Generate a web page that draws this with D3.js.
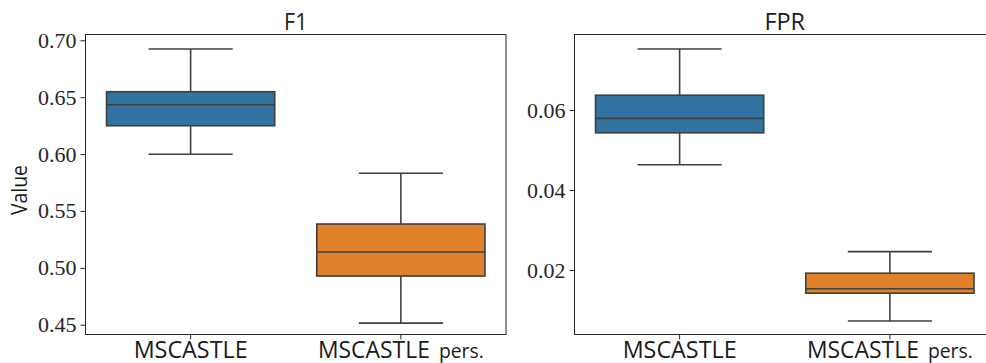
<!DOCTYPE html>
<html>
<head>
<meta charset="utf-8">
<script src="https://cdn.jsdelivr.net/npm/d3@7"></script>
<style>
  html, body { margin: 0; padding: 0; background: #fff; }
  svg { display: block; }
</style>
</head>
<body>
<svg id="chart" width="986" height="363"></svg>
<script>
// ---- data ----
const categories = ["MSCASTLE", "MSCASTLE pers."];
const categoryMain = ["MSCASTLE", "MSCASTLE"];
const categorySuffix = ["", "pers."];
const boxColors = ["#3274a1", "#e1812c"];

// F1 box stats: [whiskerLow, q1, median, q3, whiskerHigh]
const f1Stats = [
  [0.5998, 0.6249, 0.6434, 0.6548, 0.6924],
  [0.4514, 0.4928, 0.5139, 0.5385, 0.5831]
];
const f1Ticks = [0.45, 0.50, 0.55, 0.60, 0.65, 0.70];
const f1Domain = [0.4414, 0.7051];

// FPR box stats
const fprStats = [
  [0.0463, 0.0543, 0.0579, 0.0637, 0.07525],
  [0.00725, 0.0142, 0.0153, 0.0192, 0.0246]
];
const fprTicks = [0.02, 0.04, 0.06];
const fprDomain = [0.003875, 0.078875];

const panelTitles = ["F1", "FPR"];

// ---- drawing ----
const svg = d3.select("#chart");
const plotTop = 34.5, plotBottom = 334.5, panelW = 420.5;
const panels = [
  {x0: 85.5, stats: f1Stats, ticks: f1Ticks, domain: f1Domain, fmt: d3.format(".2f"), title: panelTitles[0]},
  {x0: 574.5, stats: fprStats, ticks: fprTicks, domain: fprDomain, fmt: d3.format(".2f"), title: panelTitles[1]}
];
const lineColor = "#3f3f3f";
const sans = "'Open Sans', 'DejaVu Sans', sans-serif";
const titleTL = {"F1": 23.4, "FPR": 40.7};

panels.forEach((p, pi) => {
  const x = d3.scaleBand().domain(categories).range([p.x0, p.x0 + panelW]).paddingInner(0).paddingOuter(0);
  const y = d3.scaleLinear().domain(p.domain).range([plotBottom, plotTop]);
  const g = svg.append("g");

  // y axis
  const ya = g.append("g").attr("transform", `translate(${p.x0},0)`)
    .call(d3.axisLeft(y).tickValues(p.ticks).tickSize(5).tickPadding(4).tickFormat(p.fmt));
  ya.select(".domain").remove();
  ya.selectAll(".tick line").attr("stroke", "#262626").attr("stroke-width", 1);
  ya.selectAll(".tick text").attr("font-family", "'Liberation Serif', 'Times New Roman', serif")
    .attr("font-size", 22).attr("fill", "#262626");

  // x axis ticks
  const xa = g.append("g").attr("transform", `translate(0,${plotBottom})`)
    .call(d3.axisBottom(x).tickSize(5).tickFormat(""));
  xa.select(".domain").remove();
  xa.selectAll(".tick line").attr("stroke", "#262626").attr("stroke-width", 1);

  // x labels
  categories.forEach((c, i) => {
    const cx = x(c) + x.bandwidth() / 2;
    if (categorySuffix[i] === "") {
      g.append("text").attr("x", cx).attr("y", 357.5).attr("text-anchor", "middle")
        .attr("font-family", sans).attr("font-size", 23.3)
        .attr("textLength", 114).attr("lengthAdjust", "spacingAndGlyphs")
        .attr("fill", "#1a1a1a").text(categoryMain[i]);
    } else {
      g.append("text").attr("x", cx - 83).attr("y", 357.5)
        .attr("font-family", sans).attr("font-size", 23.3)
        .attr("textLength", 112).attr("lengthAdjust", "spacingAndGlyphs")
        .attr("fill", "#1a1a1a").text(categoryMain[i]);
      g.append("text").attr("x", cx + 38).attr("y", 357.5)
        .attr("font-family", sans).attr("font-size", 19.5)
        .attr("textLength", 45).attr("lengthAdjust", "spacingAndGlyphs")
        .attr("fill", "#1a1a1a").text(categorySuffix[i]);
    }
  });

  // boxes
  p.stats.forEach((s, i) => {
    const c = categories[i];
    const bw = x.bandwidth();
    const cx = x(c) + bw / 2;
    const boxW = bw * 0.8;
    const capW = boxW / 2;
    const [lo, q1, med, q3, hi] = s;
    g.append("line").attr("x1", cx).attr("x2", cx).attr("y1", y(q3)).attr("y2", y(hi))
      .attr("stroke", lineColor).attr("stroke-width", 1.6);
    g.append("line").attr("x1", cx).attr("x2", cx).attr("y1", y(q1)).attr("y2", y(lo))
      .attr("stroke", lineColor).attr("stroke-width", 1.6);
    g.append("line").attr("x1", cx - capW / 2).attr("x2", cx + capW / 2).attr("y1", y(hi)).attr("y2", y(hi))
      .attr("stroke", lineColor).attr("stroke-width", 1.6);
    g.append("line").attr("x1", cx - capW / 2).attr("x2", cx + capW / 2).attr("y1", y(lo)).attr("y2", y(lo))
      .attr("stroke", lineColor).attr("stroke-width", 1.6);
    g.append("rect").attr("x", cx - boxW / 2).attr("y", y(q3)).attr("width", boxW).attr("height", y(q1) - y(q3))
      .attr("fill", boxColors[i]).attr("stroke", lineColor).attr("stroke-width", 1.6);
    g.append("line").attr("x1", cx - boxW / 2).attr("x2", cx + boxW / 2).attr("y1", y(med)).attr("y2", y(med))
      .attr("stroke", lineColor).attr("stroke-width", 1.6);
  });

  // frame
  g.append("rect").attr("x", p.x0).attr("y", plotTop).attr("width", panelW).attr("height", plotBottom - plotTop)
    .attr("fill", "none").attr("stroke", "#262626").attr("stroke-width", 1);

  // title
  g.append("text").attr("x", p.x0 + panelW / 2).attr("y", 29.5).attr("text-anchor", "middle")
    .attr("font-family", sans).attr("font-size", 23)
    .attr("textLength", titleTL[p.title]).attr("lengthAdjust", "spacingAndGlyphs")
    .attr("fill", "#1a1a1a").text(p.title);
});

// y-axis label
svg.append("text").attr("transform", "translate(27,190) rotate(-90)").attr("text-anchor", "middle")
  .attr("font-family", sans).attr("font-size", 21)
  .attr("textLength", 50).attr("lengthAdjust", "spacingAndGlyphs")
  .attr("fill", "#1a1a1a").text("Value");
</script>
</body>
</html>
